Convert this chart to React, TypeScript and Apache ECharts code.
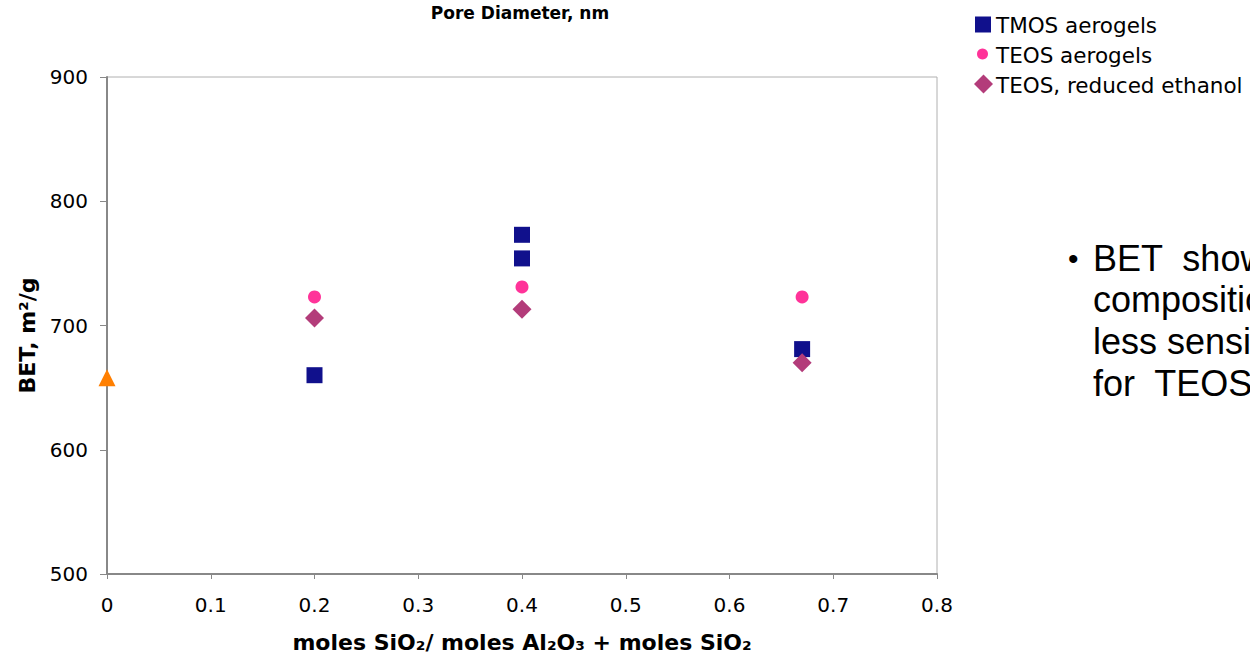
import React, { useEffect, useRef } from "react";
import * as echarts from "echarts";

const xTicks = [0, 0.1, 0.2, 0.3, 0.4, 0.5, 0.6, 0.7, 0.8];
const yTicks = [500, 600, 700, 800, 900];

const tmosData: [number, number][] = [
  [0.2, 660],
  [0.4, 773],
  [0.4, 754],
  [0.67, 681],
];
const teosData: [number, number][] = [
  [0.2, 723],
  [0.4, 731],
  [0.67, 723],
];
const teosReducedData: [number, number][] = [
  [0.2, 706],
  [0.4, 713],
  [0.67, 670],
];
const referenceData: [number, number][] = [[0, 658]];

const seriesNames = ["TMOS aerogels", "TEOS aerogels", "TEOS, reduced ethanol"];
const seriesColors = ["#10108c", "#ff3399", "#b33c7a"];
const bulletLines = ["BET  shows", "composition", "less sensitive", "for  TEOS"];

export default function App() {
  const ref = useRef<HTMLDivElement>(null);

  useEffect(() => {
    if (!ref.current) return;
    const chart = echarts.init(ref.current, undefined, { renderer: "svg" });
    const font = "DejaVu Sans";
    const legendRows = [24.5, 54, 84];
    const legendFont = { fontFamily: font, fontSize: 21.5, fill: "#000" };
    chart.setOption({
      animation: false,
      backgroundColor: "#ffffff",
      title: {
        text: "Pore Diameter, nm",
        left: 515,
        textAlign: "center",
        top: -1,
        textStyle: { fontFamily: font, fontSize: 17, fontWeight: "bold", color: "#000" },
      },
      grid: {
        left: 107,
        right: 313,
        top: 77,
        bottom: 69,
        show: true,
        borderColor: "#b0b0b0",
        borderWidth: 1,
        containLabel: false,
      },
      xAxis: {
        type: "value",
        min: xTicks[0],
        max: xTicks[xTicks.length - 1],
        interval: 0.1,
        name: "moles SiO₂/ moles Al₂O₃ + moles SiO₂",
        nameLocation: "middle",
        nameGap: 57,
        nameTextStyle: { fontFamily: font, fontSize: 22, fontWeight: "bold", color: "#000" },
        axisLine: { show: true, lineStyle: { color: "#888", width: 2 } },
        axisTick: { show: true, inside: false, length: 5, lineStyle: { color: "#888" } },
        axisLabel: {
          margin: 21,
          fontFamily: font,
          fontSize: 20,
          color: "#000",
          formatter: (v: number) => String(Math.round(v * 10) / 10),
        },
        splitLine: { show: false },
      },
      yAxis: {
        type: "value",
        min: yTicks[0],
        max: yTicks[yTicks.length - 1],
        interval: 100,
        name: "BET, m²/g",
        nameLocation: "middle",
        nameGap: 62,
        nameRotate: 90,
        nameTextStyle: {
          fontFamily: font,
          fontSize: 22,
          fontWeight: "bold",
          color: "#000",
          padding: [0, 20, 0, 0],
        },
        axisLine: { show: true, lineStyle: { color: "#888", width: 2 } },
        axisTick: { show: true, inside: false, length: 7, lineStyle: { color: "#888" } },
        axisLabel: { margin: 19, fontFamily: font, fontSize: 20, color: "#000" },
        splitLine: { show: false },
      },
      series: [
        {
          name: seriesNames[0],
          type: "scatter",
          data: tmosData,
          symbol: "rect",
          symbolSize: 16,
          clip: false,
          itemStyle: { color: seriesColors[0], opacity: 1 },
        },
        {
          name: seriesNames[1],
          type: "scatter",
          data: teosData,
          symbol: "circle",
          symbolSize: 13,
          clip: false,
          itemStyle: { color: seriesColors[1], opacity: 1 },
        },
        {
          name: seriesNames[2],
          type: "scatter",
          data: teosReducedData,
          symbol: "diamond",
          symbolSize: 19,
          clip: false,
          itemStyle: { color: seriesColors[2], opacity: 1 },
        },
        {
          name: "reference",
          type: "scatter",
          data: referenceData,
          symbol: "triangle",
          symbolSize: 17,
          clip: false,
          itemStyle: { color: "#ff7f00", opacity: 1 },
        },
      ],
      graphic: [
        // legend
        {
          type: "rect",
          shape: { x: 975, y: legendRows[0] - 8, width: 16, height: 16 },
          style: { fill: seriesColors[0] },
        },
        {
          type: "circle",
          shape: { cx: 982.5, cy: legendRows[1], r: 5.5 },
          style: { fill: seriesColors[1] },
        },
        {
          type: "polygon",
          shape: {
            points: [
              [983.5, legendRows[2] - 9.5],
              [993, legendRows[2]],
              [983.5, legendRows[2] + 9.5],
              [974, legendRows[2]],
            ],
          },
          style: { fill: seriesColors[2] },
        },
        ...seriesNames.map((n, i) => ({
          type: "text",
          x: 996,
          y: legendRows[i] + 1,
          style: { ...legendFont, text: n, verticalAlign: "middle" },
        })),
        // bullet text
        {
          type: "text",
          x: 1068,
          y: 258,
          style: { text: "•", fontFamily: "Liberation Sans", fontSize: 30, fill: "#000", verticalAlign: "middle" },
        },
        ...bulletLines.map((t, i) => ({
          type: "text",
          x: 1093,
          y: 258 + i * 41.7,
          style: { text: t, fontFamily: "Liberation Sans", fontSize: 36, fill: "#000", verticalAlign: "middle" },
        })),
      ],
    });
    return () => chart.dispose();
  }, []);

  return (
    <div
      ref={ref}
      style={{ position: "fixed", left: 0, top: 0, width: 1250, height: 658, overflow: "hidden" }}
    />
  );
}
